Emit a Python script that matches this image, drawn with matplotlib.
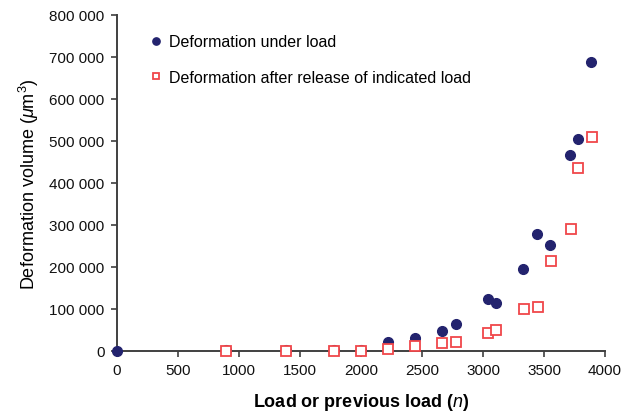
import numpy as np
import matplotlib
matplotlib.use('Agg')
import matplotlib.pyplot as plt
from matplotlib.ticker import FuncFormatter

plt.rcParams['font.family'] = ['Liberation Sans', 'DejaVu Sans']
plt.rcParams['mathtext.fontset'] = 'custom'
plt.rcParams['mathtext.rm'] = 'Liberation Sans'
plt.rcParams['mathtext.it'] = 'Liberation Sans:italic'

# load (n) and deformation volume (um^3)
load_under = [0, 890, 1385, 1780, 2000, 2225, 2444, 2666, 2778, 3043, 3109,
              3331, 3443, 3552, 3717, 3777, 3886]
vol_under = [0, 2000, 2000, 2000, 2000, 20700, 30200, 46900, 64300, 123000,
             113500, 195200, 279300, 251600, 467400, 504000, 688800]

load_after = [890, 1385, 1780, 2000, 2225, 2444, 2666, 2778, 3043, 3109,
              3336, 3451, 3555, 3722, 3782, 3892]
vol_after = [0, 0, 0, 0, 4000, 12600, 18300, 21400, 43600, 50700,
             100700, 104000, 213600, 291200, 436400, 508800]

fig = plt.figure(figsize=(6.3, 4.14), dpi=100)
ax = fig.add_axes([0.1857, 0.1498, 0.7746, 0.8116])

ax.plot(load_under, vol_under, 'o', color='#23236e', markersize=7,
        label='Deformation under load', clip_on=False, zorder=3)
ax.plot(load_after, vol_after, 's', markerfacecolor='white', markeredgecolor='#f0474a',
        markeredgewidth=1.3, markersize=6.5,
        label='Deformation after release of indicated load', clip_on=False, zorder=4)

ax.set_xlim(0, 4000)
ax.set_ylim(0, 800000)
ax.set_xticks(np.arange(0, 4001, 500))
ax.set_yticks(np.arange(0, 800001, 100000))
ax.yaxis.set_major_formatter(FuncFormatter(lambda v, p: f'{int(v):,}'.replace(',', ' ')))

for s in ['top', 'right']:
    ax.spines[s].set_visible(False)
for s in ['left', 'bottom']:
    ax.spines[s].set_color('#404040')
    ax.spines[s].set_linewidth(1.4)
ax.tick_params(direction='out', length=4, width=1.2, color='#404040',
               labelsize=11, labelcolor='#111111', pad=5)

ax.set_xlabel('Load or previous load ($\\mathit{n}$)', fontsize=13, fontweight='bold', labelpad=10)
ax.set_ylabel('Deformation volume ($\\mu$m$^3$)', fontsize=13, labelpad=6)

ax.legend(loc='upper left', bbox_to_anchor=(0.058, 0.962), frameon=False, fontsize=11.5,
          markerscale=0.75, handlelength=0.6, handletextpad=0.5, labelspacing=1.3,
          borderaxespad=0)

fig.savefig('out.png', dpi=100)
